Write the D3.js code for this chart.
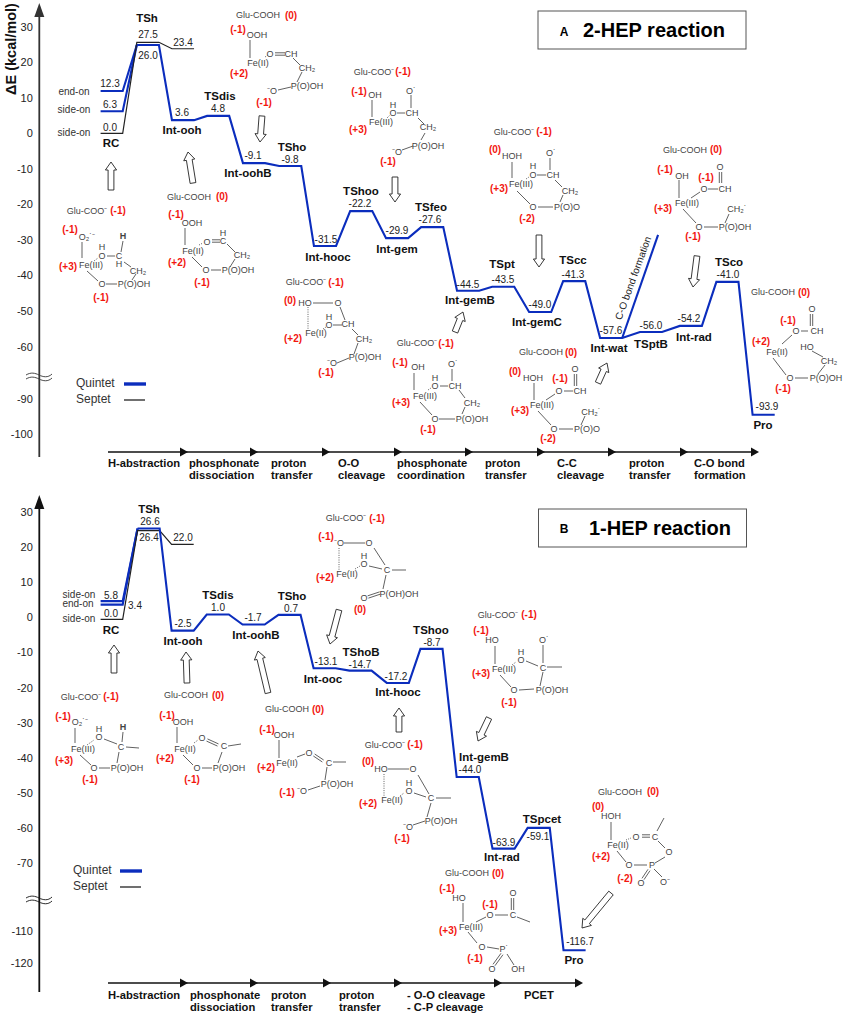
<!DOCTYPE html>
<html><head><meta charset="utf-8">
<script src="https://cdn.jsdelivr.net/npm/d3@7"></script>
<style>
html,body{margin:0;padding:0;background:#fff}
svg{display:block}
text{font-family:"Liberation Sans",Arial,sans-serif}
</style></head><body>
<div id="c"></div>
<script>
// ---------- DATA ----------
const rxA = [1.0,1.97,2.94,3.93,4.93,5.89,6.89,7.88,8.85,9.84,10.81,11.83,12.77,13.79,14.89,15.99,17,18];
const namesA = ['TSh','Int-ooh','TSdis','Int-oohB','TSho','Int-hooc','TShoo','Int-gem','TSfeo','Int-gemB','TSpt','Int-gemC','TScc','Int-wat','TSptB','Int-rad','TSco','Pro'];
const printedA = ['26.0','3.6','4.8','-9.1','-9.8','-31.5','-22.2','-29.9','-27.6','-44.5','-43.5','-49.0','-41.3','-57.6','-56.0','-54.2','-41.0','-93.9'];
const quintetA = [24.85,3.7,4.9,-8.4,-9.2,-31.7,-21.9,-29.5,-26.4,-44.3,-43.2,-50.3,-41.6,-57.6,-55.9,-54.2,-41.8,-94.5];
const startQuintetA = [11.9,6.2];      // end-on, side-on
const startPrintedA = ['12.3','6.3','0.0'];
const septetA = [0,25.6,23.8];         // RC, TSh, after TSh
const septetPrintedA = ['27.5','23.4'];
const coBondA = -28.6;
const coBondRxA = 15.39;
const ticksA = [30,20,10,0,-10,-20,-30,-40,-50,-60,-90,-100];
const stagesA = [['H-abstraction'],['phosphonate','dissociation'],['proton','transfer'],['O-O','cleavage'],['phosphonate','coordination'],['proton','transfer'],['C-C','cleavage'],['proton','transfer'],['C-O bond','formation']];

const rxB = [1.02,1.96,2.93,3.92,4.91,5.88,6.87,7.9,8.83,9.83,10.82,11.79,12.78];
const namesB = ['TSh','Int-ooh','TSdis','Int-oohB','TSho','Int-ooc','TShoB','Int-hooc','TShoo','Int-gemB','Int-rad','TSpcet','Pro'];
const printedB = ['26.6','-2.5','1.0','-1.7','0.7','-13.1','-14.7','-17.2','-8.7','-44.0','-63.9','-59.1','-116.7'];
const quintetB = [25.3,-3.8,0.8,-2.05,0.7,-14.5,-15.2,-18.7,-9,-45.5,-65.9,-60,-116];
const startQuintetB = [4.6,3.6];       // side-on, end-on
const startPrintedB = ['5.8','3.4','0.0'];
const septetB = [-0.6,24.7,20.8];
const septetPrintedB = ['26.4','22.0'];
const ticksB = [30,20,10,0,-10,-20,-30,-40,-50,-60,-70,-110,-120];
const stagesB = [['H-abstraction'],['phosphonate','dissociation'],['proton','transfer'],['proton','transfer'],['- O-O cleavage','- C-P cleavage'],['PCET']];

// ---------- LAYOUT (not data) ----------
const W=843,H=1015, BLUE='#0b2dbd', DARK='#222', MOL='#444', RED='#f2160f';
const svg=d3.select('#c').append('svg').attr('width',W).attr('height',H).attr('viewBox',`0 0 ${W} ${H}`);
svg.append('rect').attr('width',W).attr('height',H).attr('fill','#fff');
const x=d3.scaleLinear().domain([0,18]).range([100.6,752.6]);
const yA=d3.scaleLinear().domain([-100,-90,-60,30]).range([434,399,346.5,26.7]);
const yB=d3.scaleLinear().domain([-120,-110,-70,30]).range([963,931,863,512]);
const LW=0.61;
const line=d3.line().x(d=>d[0]).y(d=>d[1]);

function levels(rx,e,y){const p=[];rx.forEach((r,i)=>{p.push([x(r),y(e[i])]);p.push([x(r+LW),y(e[i])]);});return p;}
function path(g,pts,col,w){g.append('path').attr('d',line(pts)).attr('fill','none').attr('stroke',col).attr('stroke-width',w).attr('stroke-linejoin','miter');}
function txt(g,px,py,s,o={}){
  const t=g.append('text').attr('x',px).attr('y',py).attr('dy','0.35em').attr('text-anchor',o.a||'middle')
   .attr('font-size',o.s||10).attr('fill',o.c||DARK).attr('font-weight',o.b?'bold':'normal').text(s);
  if(o.r!==undefined) t.attr('transform',`rotate(${o.r} ${px} ${py})`);
  return t;
}
function vAxis(g,y,ticks,top,bot,brk,col){
  const a=d3.axisLeft(y).tickValues(ticks).tickSize(0).tickPadding(6.5).tickFormat(d=>String(d));
  const ax=g.append('g').attr('transform','translate(39.3,0)').call(a);
  ax.select('.domain').remove();
  ax.selectAll('text').attr('font-size',11).attr('fill',DARK).style('font-family','"Liberation Sans",Arial,sans-serif');
  g.append('line').attr('x1',39.3).attr('x2',39.3).attr('y1',top+10).attr('y2',bot).attr('stroke',col).attr('stroke-width',1.8);
  g.append('path').attr('d',`M39.3,${top} L44.3,${top+14} L34.3,${top+14} Z`).attr('fill',col);
  [-2,2].forEach(d=>g.append('path').attr('fill','none').attr('stroke',col).attr('stroke-width',0.9)
    .attr('d',`M26,${brk+d} C31,${brk+d-3} 35,${brk+d-2} 39,${brk+d} S48,${brk+d+3} 52,${brk+d-1}`));
}
function hAxis(g,yy,tips,col){
  g.append('line').attr('x1',108).attr('x2',tips[tips.length-1]-4).attr('y1',yy).attr('y2',yy).attr('stroke',col).attr('stroke-width',1.6);
  tips.forEach(t=>g.append('path').attr('d',`M${t},${yy} L${t-8},${yy-4.5} L${t-8},${yy+4.5} Z`).attr('fill',col));
}
function block(g,x1,y1,x2,y2){
  const a=Math.atan2(y2-y1,x2-x1),L=Math.hypot(x2-x1,y2-y1),s=2.9,h=5.6,hl=8;
  const pts=[[0,-s],[L-hl,-s],[L-hl,-h],[L,0],[L-hl,h],[L-hl,s],[0,s]].map(([u,v])=>[x1+u*Math.cos(a)-v*Math.sin(a),y1+u*Math.sin(a)+v*Math.cos(a)]);
  g.append('polygon').attr('points',pts.join(' ')).attr('fill','#fff').attr('stroke',DARK).attr('stroke-width',0.9);
}
function legend(g,tx,lx,y1,y2){
  txt(g,tx,y1,'Quintet',{a:'start',s:12,c:'#333'});
  txt(g,tx,y2,'Septet',{a:'start',s:12,c:'#333'});
  g.append('line').attr('x1',lx).attr('x2',lx+22).attr('y1',y1+1).attr('y2',y1+1).attr('stroke',BLUE).attr('stroke-width',3.4);
  g.append('line').attr('x1',lx).attr('x2',lx+21).attr('y1',y2+1).attr('y2',y2+1).attr('stroke','#333').attr('stroke-width',1.4);
}
function titleBox(g,x0,y0,w,h,letter,lx,ly,title,tx,ty){
  g.append('rect').attr('x',x0).attr('y',y0).attr('width',w).attr('height',h).attr('fill','#fff').attr('stroke','#555').attr('stroke-width',1);
  txt(g,lx,ly,letter,{s:12,b:true,c:'#000'});
  txt(g,tx,ty,title,{a:'start',s:20,b:true,c:'#000'});
}
function stageLabels(g,stages,xs,y1,y2){
  stages.forEach((st,i)=>st.forEach((s,j)=>txt(g,xs[i],j?y2:y1,s,{a:'start',s:11.2,b:true,c:'#111'})));
}

// molecule drawing helpers
let mg;
const MF=9;
const T=(a,b,s,f)=>txt(mg,a,b,s,{s:f||MF,c:MOL});
const R=(a,b,s)=>txt(mg,a,b,s,{s:10,b:true,c:RED});
const Lb=(a,b,c,d)=>mg.append('line').attr('x1',a).attr('y1',b).attr('x2',c).attr('y2',d).attr('stroke',MOL).attr('stroke-width',0.85);
const Dt=(a,b,c,d)=>Lb(a,b,c,d).attr('stroke-dasharray','1,1.3');
const Db=(a,b,c,d)=>{const n=Math.hypot(c-a,d-b),ox=-(d-b)/n*1.2,oy=(c-a)/n*1.2;Lb(a+ox,b+oy,c+ox,d+oy);Lb(a-ox,b-oy,c-ox,d-oy);};
// two atoms stacked in one text element
const St=(a,b1,b2,s1,s2)=>{const t=mg.append('text').attr('text-anchor','middle').attr('font-size',MF).attr('fill',MOL);
  t.append('tspan').attr('x',a).attr('y',b1).attr('dy','0.35em').text(s1);
  t.append('tspan').attr('x',a).attr('y',b2).attr('dy','0.35em').text(s2);return t;};

// ---------- PANEL A ----------
const A=svg.append('g');
vAxis(A,yA,ticksA,3,457,377,'#333');
txt(A,11,49,'ΔE (kcal/mol)',{s:14.5,b:true,c:'#111',r:-90});
hAxis(A,452,[188,258,330,402,473,545,616,688,759],'#111');
stageLabels(A,stagesA,[108,189,271,338,397,485,557,629,694],463,475);
legend(A,76,124,383,399);
titleBox(A,538,11,208,38,'A',564,32,'2-HEP reaction',583,30);

// quintet / septet
path(A,[[x(0),yA(startQuintetA[0])],[x(LW),yA(startQuintetA[0])],[x(rxA[0]),yA(quintetA[0])]],BLUE,2.1);
path(A,[[x(0),yA(startQuintetA[1])],[x(LW),yA(startQuintetA[1])],[x(rxA[0]),yA(quintetA[0])]],BLUE,2.1);
path(A,[[x(0),yA(septetA[0])],[x(LW),yA(septetA[0])],[x(rxA[0]),yA(septetA[1])],[x(rxA[0]+LW),yA(septetA[1])],[x(rxA[1]),yA(septetA[2])],[x(rxA[1]+LW),yA(septetA[2])]],'#222',1.2);
path(A,levels(rxA,quintetA,yA),BLUE,2.1);
path(A,[[x(rxA[13]+LW),yA(quintetA[13])],[x(coBondRxA),yA(coBondA)]],BLUE,2.1);

const posNameA=[[147,18],[182,130],[220,96],[248,173],[292,147],[328,257],[361,191],[397,249],[431,207],[470,300],[502,264],[537,322],[573,260],[609,348],[651,344],[694,337],[729,262],[763,425]];
const posValA=[[148,55],[182,112],[218,108],[253,155],[290,159],[326,239],[360,203],[397,230],[430,219],[468,284],[503,279],[540,304],[573,274],[611,330],[651,325],[689,318],[728,274],[767,406]];
namesA.forEach((n,i)=>{txt(A,posNameA[i][0],posNameA[i][1],n,{s:11.5,b:true,c:'#111'});txt(A,posValA[i][0],posValA[i][1],printedA[i]);});
txt(A,111,143,'RC',{s:11.5,b:true,c:'#111'});
startPrintedA.forEach((s,i)=>txt(A,110,[83,104,127][i],s));
septetPrintedA.forEach((s,i)=>txt(A,[148,183][i],[34,42][i],s));
['end-on','side-on','side-on'].forEach((s,i)=>txt(A,74,[91,109,132][i],s,{c:'#333'}));
txt(A,633,278,'C-O bond formation',{s:10,r:-70});

[[111,190,111,162],[193,183,188,152],[262,116,260,142],[395,177,395,202],[539,235,539,267],[455,332,463,312],[598,383,607,363],[697,256,693,287]].forEach(a=>block(A,...a));

mg=A.append('g');
// RC
T(87,211,'Glu-COO⁻');R(118,210,'(-1)');R(70,229,'(-1)');T(87,237,'O₂˙⁻');Lb(82,242,82,258);
St(102,247,256,'H','O');Lb(107,256,115,256);St(119,256,264,'C','H');T(123,236,'H').attr('font-weight','bold');Lb(123,241,121,252);
T(91,265,'Fe(III)');R(68,266,'(+3)');Lb(124,262,131,267);T(138,271,'CH₂');Lb(87,271,98,281);T(102,284,'O');Lb(106,284,117,284);
T(134,284,'P(O)OH');Lb(136,274,132,280);R(101,297,'(-1)');Dt(94,261,98,258);
// Int-ooh
T(189,197,'Glu-COOH');R(222,196,'(0)');R(176,214,'(-1)');T(192,223,'OOH');Lb(185,228,185,245);T(193,251,'Fe(II)');T(207,242,'O');Db(212,241,220,241);
St(223,233,241,'H','C');Lb(227,244,235,252);T(242,255,'CH₂');R(177,262,'(+2)');Lb(192,257,202,267);T(206,270,'O');Lb(211,270,221,270);T(238,270,'P(O)OH');Lb(235,259,230,267);R(202,282,'(-1)');Dt(199,245,203,243);
// Int-oohB
T(258,15,'Glu-COOH');R(291,15,'(0)');R(238,29,'(-1)');T(257,35,'OOH');Lb(250,40,250,58);T(258,63,'Fe(II)');R(239,73,'(+2)');T(270,54,'O');Db(275,54,285,54);T(291,54,'CH');Dt(265,57,268,55);
Lb(293,58,300,65);T(307,68,'CH₂');Lb(302,72,297,82);T(307,86,'P(O)OH');Lb(278,90,291,87);T(272,91,'⁻O');R(264,102,'(-1)');
// Int-gem
T(374,72,'Glu-COO⁻');R(403,71,'(-1)');R(359,91,'(-1)');T(375,95,'OH');Lb(372,100,372,117);T(381,122,'Fe(III)');R(358,129,'(+3)');St(393,105,113,'H','O');Lb(397,113,405,113);T(412,113,'CH');
T(411,91,'O˙');Lb(411,95,411,108);Lb(418,118,424,124);T(428,127,'CH₂');Lb(425,133,421,140);T(428,146,'P(O)OH');T(397,152,'⁻O');Lb(402,150,413,146);R(388,161,'(-1)');Dt(387,118,390,115);
// Int-hooc
T(306,282,'Glu-COO⁻');R(336,282,'(-1)');R(290,300,'(0)');T(305,303,'HO');Lb(313,303,333,303);T(338,303,'O');Lb(340,307,345,320);Dt(308,307,308,329);T(316,333,'Fe(II)');R(293,338,'(+2)');
St(329,317,325,'H','O');Lb(333,325,342,325);T(348,324,'CH');Lb(352,329,358,335);T(364,339,'CH₂');Lb(358,343,354,354);T(365,357,'P(O)OH');Lb(337,363,349,358);T(332,363,'⁻O');R(326,372,'(-1)');Dt(323,329,326,327);
// Int-gemB
T(417,343,'Glu-COO⁻');R(446,343,'(-1)');R(400,362,'(-1)');T(418,367,'OH');Lb(414,373,414,390);T(425,396,'Fe(III)');R(401,402,'(+3)');St(435,378,386,'H','O');Lb(440,386,448,386);T(455,386,'CH');
T(453,364,'O˙');Lb(452,369,452,381);Lb(459,390,465,398);T(472,403,'CH₂');Lb(465,407,462,414);T(472,419,'P(O)OH');Lb(439,419,455,419);T(435,419,'O');Lb(420,402,432,415);R(428,429,'(-1)');Dt(428,390,431,388);
// Int-gemC
T(514,132,'Glu-COO⁻');R(544,131,'(-1)');R(495,149,'(0)');T(512,156,'HOH');Lb(512,162,512,178);T(521,184,'Fe(III)');R(499,188,'(+3)');St(533,166,175,'H','O');Lb(537,175,546,175);T(553,175,'CH');
T(551,153,'O˙');Lb(550,158,550,170);Lb(555,180,562,187);T(570,191,'CH₂');Lb(563,195,560,202);T(567,207,'P(O)O');T(533,207,'O');Lb(538,207,553,207);Lb(517,191,530,204);R(527,218,'(-2)');Dt(526,179,529,177);
// Int-rad
T(685,150,'Glu-COOH');R(716,149,'(0)');R(665,169,'(-1)');T(682,176,'OH');Lb(679,180,679,198);T(687,203,'Fe(III)');R(663,208,'(+3)');R(706,177,'(-1)');T(704,189,'O');Lb(691,198,700,192);Lb(708,189,718,189);T(725,189,'CH');
T(720,167,'O');Db(720.5,172,720.5,183);Lb(683,209,696,223);T(699,227,'O');Lb(704,227,718,227);T(735,227,'P(O)OH');T(737,209,'CH₂˙');Lb(729,214,725,223);R(693,236,'(-1)');
// Int-wat
T(541,352,'Glu-COOH');R(571,352,'(0)');R(515,371,'(0)');T(533,378,'HOH');Lb(534,383,534,400);T(542,405,'Fe(III)');R(520,410,'(+3)');R(560,378,'(-1)');T(559,391,'O');Lb(546,400,555,394);Lb(564,391,573,391);T(580,391,'CH');
T(575,369,'O');Db(575.5,374,575.5,386);Lb(538,411,551,425);T(554,429,'O');Lb(559,429,573,429);T(587,429,'P(O)O');T(591,412,'CH₂˙');Lb(585,416,581,425);R(548,438,'(-2)');
// Pro
T(773,292,'Glu-COOH');R(804,292,'(0)');R(788,320,'(-1)');T(812,309,'O');Db(811.5,314,811.5,326);T(796,331,'O');Lb(801,331,808,331);T(817,331,'CH');Lb(782,344,792,335);R(761,341,'(+2)');T(777,352,'Fe(II)');Lb(773,358,786,375);T(790,378,'O');Lb(795,378,808,378);T(826,378,'P(O)OH');
T(807,347,'HO');Lb(812,351,823,357);T(829,361,'CH₂');Lb(825,365,818,374);R(783,388,'(-1)');

// ---------- PANEL B ----------
const B=svg.append('g');
vAxis(B,yB,ticksB,495,992,900,'#111');
hAxis(B,983,[188,258,331,402,502,583],'#111');
stageLabels(B,stagesB,[108,190,271,339,407,524],995,1007);
legend(B,73,120,870,886);
titleBox(B,538.5,509,208,38,'B',564,529,'1-HEP reaction',589,528);

path(B,[[x(0),yB(startQuintetB[0])],[x(LW),yB(startQuintetB[0])],[x(rxB[0]),yB(quintetB[0])]],BLUE,2.1);
path(B,[[x(0),yB(startQuintetB[1])],[x(LW),yB(startQuintetB[1])],[x(rxB[0]),yB(quintetB[0])]],BLUE,2.1);
path(B,[[x(0),yB(septetB[0])],[x(LW),yB(septetB[0])],[x(rxB[0]),yB(septetB[1])],[x(rxB[0]+LW),yB(septetB[1])],[x(rxB[1]),yB(septetB[2])],[x(rxB[1]+LW),yB(septetB[2])]],'#222',1.2);
path(B,levels(rxB,quintetB,yB),BLUE,2.1);

const posNameB=[[149,509],[183,641],[218,595],[256,635],[292,596],[323,679],[361,652],[398,692],[431,630],[484,757],[502,857],[542,819],[574,960]];
const posValB=[[150,521],[183,623],[218,607],[253,617],[291,608],[326,661],[360,664],[396,676],[432,642],[470,769],[504,842],[538,836],[580,941]];
namesB.forEach((n,i)=>{txt(B,posNameB[i][0],posNameB[i][1],n,{s:11.5,b:true,c:'#111'});txt(B,posValB[i][0],posValB[i][1],printedB[i]);});
txt(B,111,630,'RC',{s:11.5,b:true,c:'#111'});
startPrintedB.forEach((s,i)=>txt(B,[111,135,111][i],[595,605,613][i],s));
septetPrintedB.forEach((s,i)=>txt(B,[149,183][i],537,s));
['side-on','end-on','side-on'].forEach((s,i)=>txt(B,[79,78,79][i],[594,603,618][i],s,{c:'#333'}));

[[114,673,114,645],[187,683,186,652],[268,693,258,651],[339,610,330,644],[399,732,399,708],[489,718,478,741],[611,893,582,928]].forEach(a=>block(B,...a));

mg=B.append('g');
// RC
T(81,697,'Glu-COO⁻');R(111,696,'(-1)');R(63,716,'(-1)');T(80,722,'O₂˙⁻');Lb(75,728,75,743);T(83,749,'Fe(III)');R(64,760,'(+3)');St(99,729,737,'H','O');Dt(87,745,94,740);Lb(104,739,117,744);T(121,747,'C');T(123,727,'H').attr('font-weight','bold');Lb(123,732,122,742);Lb(126,747,139,748);
Lb(119,752,117,763);T(127,768,'P(O)OH');T(94,768,'O');Lb(99,768,110,768);Lb(80,755,91,765);R(90,779,'(-1)');
// Int-ooh
T(186,695,'Glu-COOH');R(218,695,'(0)');R(167,715,'(-1)');T(183,722,'OOH');Lb(177,727,177,743);T(185,749,'Fe(II)');R(165,758,'(+2)');T(202,738,'O');Db(207,740,218,745);T(224,746,'C');Lb(228,746,241,744);Dt(194,743,198,740);
Lb(222,752,218,763);T(229,768,'P(O)OH');T(197,768,'O');Lb(202,768,212,768);Lb(183,755,193,765);R(192,779,'(-1)');
// Int-oohB
T(287,709,'Glu-COOH');R(318,709,'(0)');R(267,729,'(-1)');T(284,735,'OOH');Lb(279,740,279,758);T(287,763,'Fe(II)');R(266,767,'(+2)');T(309,753,'O');Lb(297,757,305,754);Db(314,755,323,761);T(329,763,'C');Lb(333,762,346,762);Lb(327,767,325,780);T(337,784,'P(O)OH');Lb(308,790,320,786);T(302,791,'⁻O');R(287,792,'(-1)');
// Int-ooc
T(346,518,'Glu-COO⁻');R(377,518,'(-1)');R(326,536,'(-1)');T(339,543,'⁻O');Lb(344,543,365,543);T(369,543,'O');Lb(374,548,385,565);Dt(339,548,339,570);T(347,574,'Fe(II)');R(325,577,'(+2)');St(364,556,564,'H','O');Lb(369,566,382,569);Dt(355,569,360,566);T(387,570,'C');Lb(392,570,406,570);Lb(386,575,383,589);T(399,594,'P(OH)OH');T(364,598,'O');Db(368,597,380,593);R(360,609,'(0)');
// Int-gemB
T(498,615,'Glu-COO⁻');R(529,614,'(-1)');R(481,630,'(-1)');T(492,640,'HO');Lb(495,646,495,664);T(504,669,'Fe(III)');R(481,673,'(+3)');St(521,652,660,'H','O');Dt(512,665,516,662);Lb(526,661,538,666);T(543,668,'C');T(544,640,'O˙');Lb(543,645,543,663);Lb(547,667,562,667);Lb(543,672,540,686);T(552,690,'P(O)OH');T(514,690,'O');Lb(519,690,534,689);Lb(500,675,511,687);R(509,702,'(-1)');
// Int-hooc
T(385,745,'Glu-COO⁻');R(415,744,'(-1)');R(368,761,'(0)');T(381,769,'HO');Lb(388,769,409,769);T(413,769,'O');Dt(384,774,384,796);T(392,800,'Fe(II)');R(368,803,'(+2)');St(409,783,791,'H','O');Lb(414,793,426,797);Lb(418,775,429,794);T(431,798,'C');Dt(400,796,404,793);Lb(436,798,451,798);Lb(431,803,427,817);T(441,821,'P(O)OH');T(408,827,'⁻O');Lb(413,825,425,821);R(402,838,'(-1)');
// Int-rad
T(467,873,'Glu-COOH');R(498,873,'(0)');R(447,888,'(-1)');T(459,898,'HO');Lb(463,903,463,922);T(471,927,'Fe(III)');R(448,930,'(+3)');R(490,904,'(-1)');T(490,915,'O');Lb(476,922,486,917);Lb(495,915,508,915);T(513,915,'C');T(513,893,'O');Db(512.5,898,512.5,910);Lb(517,917,530,922);Lb(468,932,477,943);T(482,947,'O');Lb(487,947,499,949);T(504,949,'P˙');Db(502,954,494,965);T(492,969,'O');Lb(507,954,514,965);T(518,969,'OH');R(475,958,'(-1)');
// Pro
T(620,792,'Glu-COOH');R(653,791,'(0)');R(598,806,'(0)');T(611,816,'HOH');Lb(611,822,611,840);T(618,845,'Fe(II)');R(601,856,'(+2)');T(636,837,'O');Dt(626,840,631,838);Db(642,836,650,836);T(655,837,'C');Lb(657,831,664,818);Lb(658,841,665,848);T(669,852,'O');Lb(665,857,655,863);T(652,865,'P');Lb(634,865,647,865);T(629,865,'O');Lb(617,851,626,862);Db(649,870,643,879);T(641,883,'O');Lb(654,869,662,877);T(665,882,'O⁻');R(625,878,'(-2)');
</script>
</body></html>
